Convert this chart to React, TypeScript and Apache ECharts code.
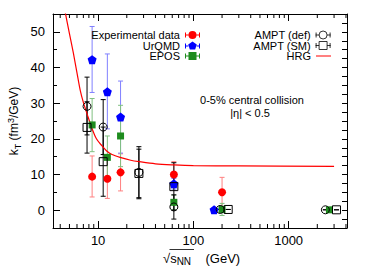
import React, { useEffect, useRef } from 'react';
import * as echarts from 'echarts';

const FONT = '"Liberation Sans", Arial, Helvetica, sans-serif';

// [sqrt(sNN), kT, errLow, errHigh]
const expData = [
  [8.65, 9.4, 3.7, 15.2],
  [12.5, 8.8, 3.3, 14.3],
  [17.2, 10.6, 5.4, 15.8],
  [62.4, 10.0, 6.4, 13.6],
  [200, 5.0, 0.8, 9.2],
];
const urqmdData = [
  [8.65, 42.2, 33.0, 51.5],
  [12.5, 33.2, 22.8, 43.8],
  [17.2, 26.1, 16.0, 36.2],
  [62.4, 7.4, 5.9, 8.9],
  [165, 0.1, 0.1, 0.1],
];
const eposData = [
  [8.65, 23.9, 16.4, 31.3],
  [12.5, 14.8, 8.8, 20.8],
  [17.2, 20.8, 12.2, 29.4],
  [62.4, 2.2, 0.2, 4.2],
  [200, 0.2, -1.5, 1.9],
  [2680, 0.1, 0.1, 0.1],
];
const amptDefData = [
  [7.65, 29.1, 21.1, 37.3],
  [11.3, 23.3, 15.6, 31.0],
  [26.8, 10.6, 3.2, 17.8],
  [62.4, 0.9, -2.5, 4.3],
  [191, 0.2, 0.2, 0.2],
  [2430, 0.1, 0.1, 0.1],
];
const amptSmData = [
  [7.65, 23.2, 16.0, 30.4],
  [11.3, 13.6, 3.9, 23.3],
  [26.8, 10.3, 3.5, 17.1],
  [62.4, 6.6, 0.0, 13.3],
  [232, 0.2, 0.2, 0.2],
  [3180, 0.1, 0.1, 0.1],
];
const hrgData = [
  [4.4, 57], [5, 49.5], [5.5, 44], [6, 38.5], [6.5, 33.5], [7, 30.2], [7.7, 26.8],
  [8.5, 23.4], [9.6, 20.0], [11, 18.0], [12.3, 16.6], [14, 15.6], [17, 14.8],
  [22, 14.0], [27, 13.6], [40, 13.0], [62, 12.7], [100, 12.5], [300, 12.4], [3000, 12.3],
];
const xMajorLabels = [10, 100, 1000];
const xMinorTicks = [4, 5, 6, 7, 8, 9, 20, 30, 40, 50, 60, 70, 80, 90, 200, 300, 400, 500, 600, 700, 800, 900, 2000, 3000, 4000];

const X_MIN = 3.36;
const X_MAX = 4100;
const Y_MIN = -5;
const Y_MAX = 55;

const PENTAGON = 'path://M0,-1 L0.951,-0.309 L0.588,0.809 L-0.588,0.809 L-0.951,-0.309 Z';
const ICON_CIRCLE = 'path://M0,2H1V7H0Z M14,2H15V7H14Z M0,4H3.5V5H0Z M11.5,4H15V5H11.5Z M3.5,4.5A4,4 0 1 1 11.5,4.5A4,4 0 1 1 3.5,4.5Z';
const ICON_PENT = 'path://M0,2H1V7H0Z M14,2H15V7H14Z M0,4H3.3V5H0Z M11.7,4H15V5H11.7Z M7.5,0L11.78,3.11L10.15,8.14L4.85,8.14L3.22,3.11Z';
const ICON_SQUARE = 'path://M0,2H1V7H0Z M14,2H15V7H14Z M0,4H3.5V5H0Z M11.5,4H15V5H11.5Z M3.5,0.5H11.5V8.5H3.5Z';
const ICON_OCIRCLE = 'path://M0.5,2V7 M14.5,2V7 M0,4.5H3.5 M11.5,4.5H15 M3.5,4.5A4,4 0 1 1 11.5,4.5A4,4 0 1 1 3.5,4.5Z';
const ICON_OSQUARE = 'path://M0.5,2V7 M14.5,2V7 M0,4.5H3.5 M11.5,4.5H15 M3.5,0.5H11.5V8.5H3.5Z';
const ICON_LINE = 'path://M0,0H15V1H0Z';

function errSeries(name: string, data: number[][], color: string) {
  return {
    type: 'custom',
    name,
    data,
    encode: { x: 0, y: [2, 3] },
    silent: true,
    z: 1,
    clip: false,
    renderItem: (params: any, api: any) => {
      const x = api.value(0);
      const lo = api.value(2);
      const hi = api.value(3);
      const p1 = api.coord([x, lo]);
      const p2 = api.coord([x, hi]);
      const w = 2.5;
      const style = { stroke: color, lineWidth: 1 };
      return {
        type: 'group',
        children: [
          { type: 'line', shape: { x1: p1[0], y1: p1[1], x2: p2[0], y2: p2[1] }, style },
          { type: 'line', shape: { x1: p1[0] - w, y1: p1[1], x2: p1[0] + w, y2: p1[1] }, style },
          { type: 'line', shape: { x1: p2[0] - w, y1: p2[1], x2: p2[0] + w, y2: p2[1] }, style },
        ],
      };
    },
  };
}

function legendItem(name: string, icon: string, right: number, top: number, h = 9, bw = 0.8) {
  return {
    show: true,
    orient: 'vertical',
    right,
    top,
    padding: 0,
    itemWidth: 15,
    itemHeight: h,
    itemGap: 0,
    align: 'right',
    selectedMode: false,
    itemStyle: { borderWidth: bw },
    textStyle: { fontSize: 11, color: '#000', fontFamily: FONT },
    data: [{ name, icon }],
  };
}

export default function App() {
  const ref = useRef<HTMLDivElement>(null);
  useEffect(() => {
    document.body.style.margin = '0';
    const chart = echarts.init(ref.current!, undefined, { renderer: 'svg' });
    const axisLine = { show: true, onZero: false, lineStyle: { color: '#000', width: 1 } };
    const option: any = {
      animation: false,
      backgroundColor: '#fff',
      grid: { left: 53, right: 21, top: 14, bottom: 48, containLabel: false },
      xAxis: [
        {
          type: 'log',
          min: X_MIN,
          max: X_MAX,
          logBase: 10,
          position: 'bottom',
          axisLine,
          axisTick: { show: true, inside: true, length: 7, lineStyle: { color: '#000' } },
          minorTick: { show: false },
          splitLine: { show: false },
          axisLabel: {
            margin: 6,
            fontSize: 13,
            color: '#000',
            fontFamily: FONT,
            formatter: (v: number) => {
              const r = Math.round(v);
              return xMajorLabels.indexOf(r) >= 0 && Math.abs(v - r) < 1e-6 * r ? String(r) : '';
            },
          },
        },
        {
          type: 'log',
          position: 'top',
          min: X_MIN,
          max: X_MAX,
          logBase: 10,
          axisLine,
          axisTick: { show: true, inside: true, length: 7, lineStyle: { color: '#000' } },
          axisLabel: { show: false },
          splitLine: { show: false },
        },
      ],
      yAxis: [
        {
          type: 'value',
          min: Y_MIN,
          max: Y_MAX,
          splitNumber: 6,
          position: 'left',
          axisLine,
          axisTick: { show: true, inside: true, length: 7, lineStyle: { color: '#000' } },
          minorTick: { show: true, splitNumber: 2, length: 4, lineStyle: { color: '#000' } },
          splitLine: { show: false },
          axisLabel: {
            margin: 8,
            fontSize: 13,
            color: '#000',
            fontFamily: FONT,
            formatter: (v: number) => (Math.abs(v % 10) < 1e-9 ? String(v) : ''),
          },
        },
        {
          type: 'value',
          position: 'right',
          min: Y_MIN,
          max: Y_MAX,
          interval: 2.5,
          axisLine,
          axisTick: { show: true, inside: true, length: 5, lineStyle: { color: '#000' } },
          axisLabel: { show: false },
          splitLine: { show: false },
        },
      ],
      legend: [
        legendItem('Experimental data', ICON_CIRCLE, 168, 29.5),
        legendItem('UrQMD', ICON_PENT, 168, 40),
        legendItem('EPOS', ICON_SQUARE, 168, 50.5),
        legendItem('AMPT (def)', ICON_OCIRCLE, 37, 29.5),
        legendItem('AMPT (SM)', ICON_OSQUARE, 37, 40),
        legendItem('HRG', ICON_LINE, 37, 50.5, 1.2, 0),
      ],
      graphic: [
        {
          type: 'text',
          x: 252,
          y: 100,
          style: { text: '0-5% central collision', align: 'center', verticalAlign: 'middle', fontSize: 11, fontFamily: FONT, fill: '#000' },
        },
        {
          type: 'text',
          x: 250,
          y: 113,
          style: { text: '|η| < 0.5', align: 'center', verticalAlign: 'middle', fontSize: 11, fontFamily: FONT, fill: '#000' },
        },
        {
          type: 'text',
          x: 14,
          y: 121,
          rotation: Math.PI / 2,
          style: {
            text: '{a|k}{b|T}{a| (fm}{c|3}{a|/GeV)}',
            align: 'center',
            verticalAlign: 'middle',
            fill: '#000',
            rich: {
              a: { fontSize: 12, lineHeight: 16, fontFamily: FONT, fill: '#000' },
              b: { fontSize: 9, lineHeight: 9, verticalAlign: 'bottom', fontFamily: FONT, fill: '#000' },
              c: { fontSize: 9, lineHeight: 9, verticalAlign: 'top', fontFamily: FONT, fill: '#000' },
            },
          },
        },
        {
          type: 'text',
          x: 163,
          y: 258,
          style: {
            text: '{a|√}{a|s}{b|NN}{a|    (GeV)}',
            align: 'left',
            verticalAlign: 'middle',
            fill: '#000',
            rich: {
              a: { fontSize: 13, lineHeight: 17, fontFamily: FONT, fill: '#000' },
              b: { fontSize: 10, lineHeight: 10, verticalAlign: 'bottom', fontFamily: FONT, fill: '#000' },
            },
          },
        },
        {
          type: 'line',
          shape: { x1: 169.5, y1: 249.5, x2: 194, y2: 249.5 },
          style: { stroke: '#000', lineWidth: 0.8 },
        },
      ],
      series: [
        {
          type: 'custom',
          name: 'minor-ticks',
          data: xMinorTicks.map((v) => [v, 0]),
          encode: { x: 0, y: 1 },
          silent: true,
          clip: false,
          z: 5,
          renderItem: (params: any, api: any) => {
            const x = api.coord([api.value(0), 0])[0];
            const cs = params.coordSys;
            const yb = cs.y + cs.height;
            const yt = cs.y;
            const style = { stroke: '#000', lineWidth: 1 };
            return {
              type: 'group',
              children: [
                { type: 'line', shape: { x1: x, y1: yb, x2: x, y2: yb - 4 }, style },
                { type: 'line', shape: { x1: x, y1: yt, x2: x, y2: yt + 4 }, style },
              ],
            };
          },
        },
        errSeries('err-exp', expData, '#ff8080'),
        errSeries('err-urqmd', urqmdData, '#8080ff'),
        errSeries('err-epos', eposData, '#80c080'),
        errSeries('err-amptdef', amptDefData, '#000000'),
        errSeries('err-amptsm', amptSmData, '#000000'),
        {
          type: 'line',
          name: 'HRG',
          data: hrgData,
          showSymbol: false,
          symbol: 'none',
          smooth: 0.3,
          z: 2,
          lineStyle: { color: '#ff0000', width: 1.2 },
          itemStyle: { color: '#ff0000' },
        },
        {
          type: 'scatter',
          name: 'Experimental data',
          data: expData,
          symbol: 'circle',
          symbolSize: 8,
          z: 4,
          itemStyle: { color: '#ff0000', opacity: 1 },
        },
        {
          type: 'scatter',
          name: 'UrQMD',
          data: urqmdData,
          symbol: PENTAGON,
          symbolSize: 9,
          z: 4,
          itemStyle: { color: '#0000ff', opacity: 1 },
        },
        {
          type: 'scatter',
          name: 'EPOS',
          data: eposData,
          symbol: 'rect',
          symbolSize: 7,
          z: 4,
          itemStyle: { color: '#1e8c1e', opacity: 1 },
        },
        {
          type: 'scatter',
          name: 'AMPT (def)',
          data: amptDefData,
          symbol: 'circle',
          symbolSize: 8,
          z: 4,
          itemStyle: { color: 'rgba(0,0,0,0)', borderColor: '#000', borderWidth: 1, opacity: 1 },
        },
        {
          type: 'scatter',
          name: 'AMPT (SM)',
          data: amptSmData,
          symbol: 'rect',
          symbolSize: 8,
          z: 4,
          itemStyle: { color: 'rgba(0,0,0,0)', borderColor: '#000', borderWidth: 1, opacity: 1 },
        },
      ],
    };
    chart.setOption(option);
    return () => chart.dispose();
  }, []);
  return <div ref={ref} style={{ position: 'absolute', left: 0, top: 0, width: 368, height: 276 }} />;
}
